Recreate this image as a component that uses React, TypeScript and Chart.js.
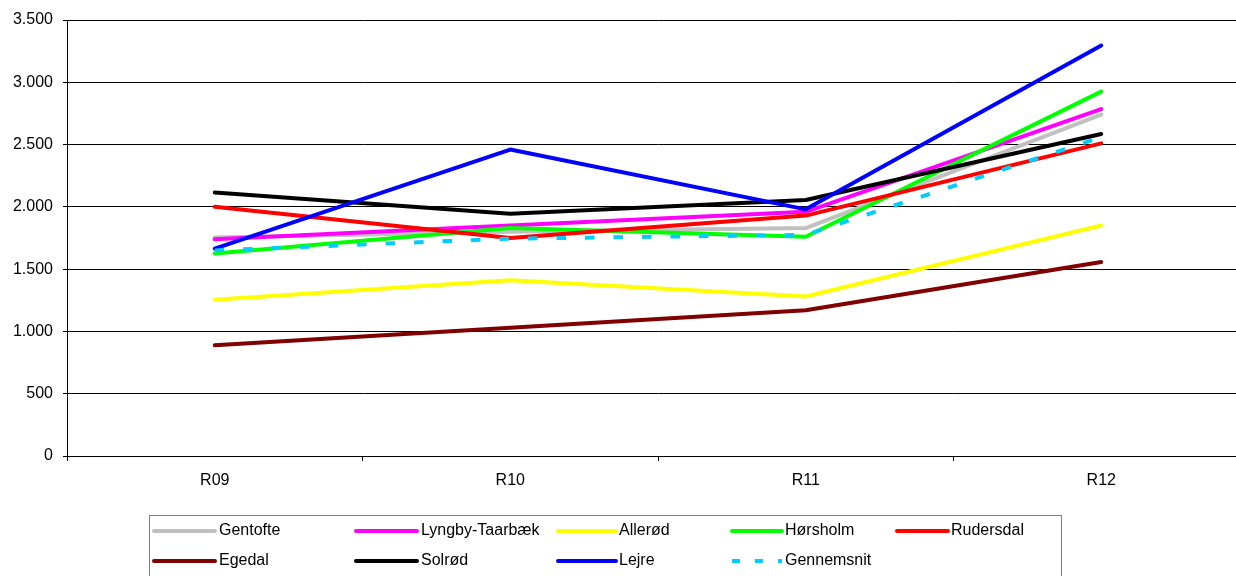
import React, { useEffect, useRef } from "react";
import { Chart, registerables } from "chart.js";

Chart.register(...registerables);

const categories = ["R09", "R10", "R11", "R12"];
const gentofte = [1755, 1800, 1830, 2740];
const lyngby = [1740, 1850, 1960, 2785];
const allerod = [1255, 1410, 1280, 1850];
const horsholm = [1625, 1830, 1760, 2925];
const rudersdal = [2000, 1750, 1930, 2510];
const egedal = [890, 1030, 1170, 1557];
const solrod = [2115, 1945, 2055, 2585];
const lejre = [1665, 2460, 1980, 3295];
const gennemsnit = [1650, 1745, 1775, 2560];

const seriesNames = ["Gentofte", "Lyngby-Taarbæk", "Allerød", "Hørsholm", "Rudersdal", "Egedal", "Solrød", "Lejre", "Gennemsnit"];
const seriesData = [gentofte, lyngby, allerod, horsholm, rudersdal, egedal, solrod, lejre, gennemsnit];
const seriesColors = ["#C0C0C0", "#FF00FF", "#FFFF00", "#00FF00", "#FF0000", "#800000", "#000000", "#0000FF", "#00CCFF"];

const FONT = "'Liberation Sans', Arial, sans-serif";

const fmt = (v: number) => String(v).replace(/\B(?=(\d{3})+(?!\d))/g, ".");

// legend layout (columns: line start, line end, text x)
const legendCols = [
  [154, 215, 219],
  [356, 417, 421],
  [558, 616, 619],
  [732, 782, 785],
  [897, 948, 951],
];
const legendRows = [531, 561];

const legendPlugin = {
  id: "excelLegend",
  afterDraw(chart: any) {
    const ctx = chart.ctx;
    ctx.save();
    ctx.strokeStyle = "#808080";
    ctx.lineWidth = 1;
    ctx.strokeRect(149.5, 515.5, 912, 80);
    ctx.font = `16px ${FONT}`;
    ctx.textBaseline = "middle";
    ctx.textAlign = "left";
    chart.data.datasets.forEach((ds: any, i: number) => {
      const row = Math.floor(i / 5);
      const col = i % 5;
      const [x0, x1, tx] = legendCols[col];
      const y = legendRows[row];
      ctx.beginPath();
      ctx.strokeStyle = ds.borderColor;
      ctx.lineWidth = 4;
      if (ds.borderDash && ds.borderDash.length) {
        ctx.setLineDash([8, 15]);
        ctx.lineCap = "butt";
      } else {
        ctx.setLineDash([]);
        ctx.lineCap = "round";
      }
      ctx.moveTo(x0, y);
      ctx.lineTo(x1, y);
      ctx.stroke();
      ctx.setLineDash([]);
      ctx.fillStyle = "#000";
      ctx.fillText(ds.label, tx, y);
    });
    ctx.restore();
  },
};

export default function App() {
  const ref = useRef<HTMLCanvasElement | null>(null);
  useEffect(() => {
    if (!ref.current) return;
    const n = seriesNames.length;
    const chart = new Chart(ref.current, {
      type: "line",
      data: {
        labels: categories,
        datasets: seriesNames.map((name, i) => ({
          label: name,
          data: seriesData[i],
          borderColor: seriesColors[i],
          backgroundColor: seriesColors[i],
          borderWidth: 4,
          pointRadius: 0,
          tension: 0,
          fill: false,
          order: n - 1 - i,
          borderDash: name === "Gennemsnit" ? [9.5, 19] : [],
          borderCapStyle: name === "Gennemsnit" ? "butt" : "round",
          borderJoinStyle: "round",
        })),
      },
      options: {
        responsive: false,
        animation: false,
        devicePixelRatio: 1,
        layout: { padding: { left: 0, right: 11, top: 20, bottom: 0 } },
        plugins: { legend: { display: false }, tooltip: { enabled: false } },
        scales: {
          x: {
            type: "category",
            offset: true,
            grid: {
              offset: true,
              drawOnChartArea: false,
              drawTicks: true,
              tickLength: 5,
              color: "#000",
            },
            border: { display: true, color: "#000", width: 1 },
            ticks: { color: "#000", font: { family: FONT, size: 16 }, padding: 10 },
            afterFit: (s: any) => {
              s.height = 120;
            },
          },
          y: {
            min: 0,
            max: 3500,
            grid: { color: "#000", lineWidth: 1, tickLength: 4, drawTicks: true },
            border: { display: true, color: "#000", width: 1 },
            ticks: {
              stepSize: 500,
              color: "#000",
              font: { family: FONT, size: 16 },
              padding: 10,
              callback: (v: any) => fmt(Number(v)),
            },
            afterFit: (s: any) => {
              s.width = 67;
            },
          },
        },
      },
      plugins: [legendPlugin],
    } as any);
    return () => chart.destroy();
  }, []);
  return (
    <div style={{ position: "fixed", left: 0, top: 0, width: 1236, height: 576, overflow: "hidden", background: "#fff" }}>
      <canvas ref={ref} width={1260} height={576} style={{ display: "block" }} />
    </div>
  );
}
